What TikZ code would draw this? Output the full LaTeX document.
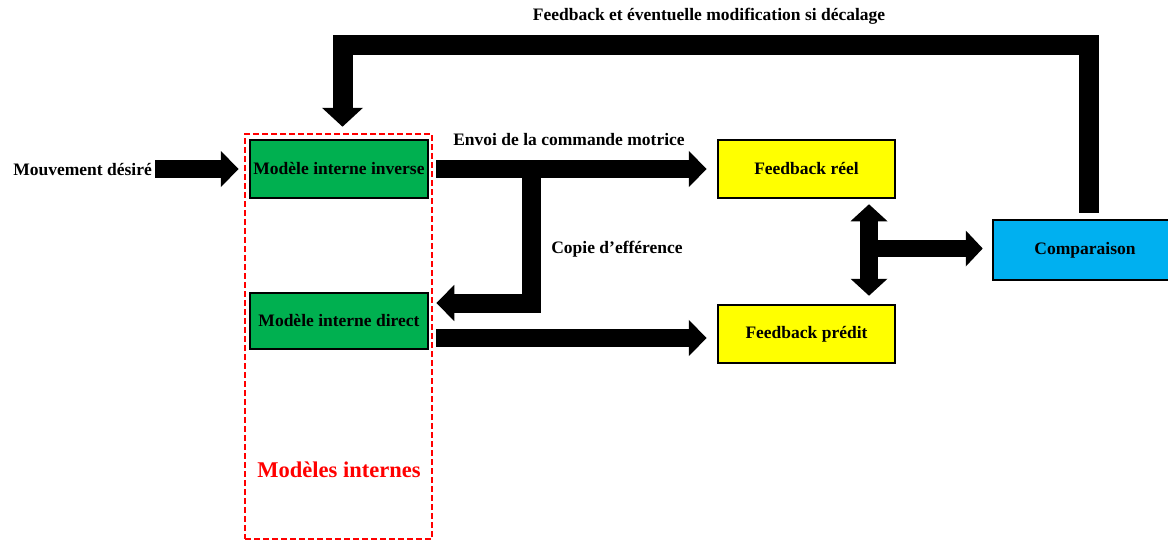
\documentclass[tikz,border=0pt]{standalone}
\usepackage{fontspec}
\setmainfont{Liberation Serif}
\usetikzlibrary{arrows.meta}
\definecolor{mgreen}{HTML}{00B050}
\definecolor{myellow}{HTML}{FFFF00}
\definecolor{mcyan}{HTML}{00B0F0}
\definecolor{mred}{HTML}{FF0000}
\begin{document}
\begin{tikzpicture}[x=1pt,y=-1pt,
  font=\fontsize{17.5}{20}\selectfont\bfseries,
  box/.style={draw=black, line width=2.5pt, inner sep=0pt},
  lbl/.style={inner sep=0pt},
  bigarrow/.style={line width=18pt, line join=miter, -{Triangle[length=18pt,width=35pt]}},
  cmparrow/.style={line width=17pt, -{Triangle[length=17pt,width=35pt]}},
  twoarrow/.style={line width=18pt, {Triangle[length=17pt,width=36pt]}-{Triangle[length=17pt,width=36pt]}},
  looparrow/.style={line width=20pt, line join=miter, -{Triangle[length=19pt,width=40pt]}}]
\useasboundingbox (0,0) rectangle (1168,541);
% dashed group
\node[draw=mred, line width=2.2pt, dash pattern=on 6pt off 3pt, minimum width=187pt, minimum height=405pt, inner sep=0pt] (mi) at (338.5,336.5) {};
\node[lbl, text=mred, font=\fontsize{22.5}{26}\selectfont\bfseries] (milbl) at (339,470) {Modèles internes};
% boxes
\node[box, fill=mgreen, minimum width=178pt, minimum height=58pt] (inv) at (339,169) {Modèle interne inverse};
\node[box, fill=mgreen, minimum width=178pt, minimum height=56pt] (dir) at (339,321) {Modèle interne direct};
\node[box, fill=myellow, minimum width=177pt, minimum height=58pt] (reel) at (806.5,169) {Feedback réel};
\node[box, fill=myellow, minimum width=177pt, minimum height=58pt] (pred) at (806.5,334) {Feedback prédit};
\node[box, fill=mcyan, minimum width=184pt, minimum height=60pt] (comp) at (1085,250) {Comparaison};
% labels
\node[lbl, anchor=east] (mvt) at (152,170) {Mouvement désiré};
\node[lbl] (title) at (709,16) {Feedback et éventuelle modification si décalage};
\node[lbl] (envoi) at (569,140) {Envoi de la commande motrice};
\node[lbl] (copie) at (617,249) {Copie d’efférence};
% arrows
\draw[bigarrow, shorten <=3pt, shorten >=10pt] (mvt.east |- inv.west) -- (inv.west);
\draw[bigarrow, shorten <=7pt, shorten >=10pt] (inv.east) -- (reel.west);
\coordinate (br) at (531.5,169);
\draw[bigarrow, line width=19pt, shorten >=7pt] (br) |- ([yshift=18pt]dir.east);
\coordinate (d1) at ([yshift=-17pt]dir.east);
\draw[bigarrow, shorten <=7pt, shorten >=10pt] (d1) -- (d1 -| pred.west);
\draw[twoarrow, shorten <=5pt, shorten >=8pt] ([xshift=62.5pt]reel.south) -- ([xshift=62.5pt]pred.north);
\coordinate (mid) at (869,248.5);
\draw[cmparrow, shorten >=9pt] (mid) -- (mid -| comp.west);
\coordinate (top) at (700,44.5);
\draw[looparrow, shorten <=6pt, shorten >=12pt] ([xshift=3.5pt]comp.north) |- (top) -| ([xshift=3.5pt]inv.north);
\end{tikzpicture}
\end{document}
